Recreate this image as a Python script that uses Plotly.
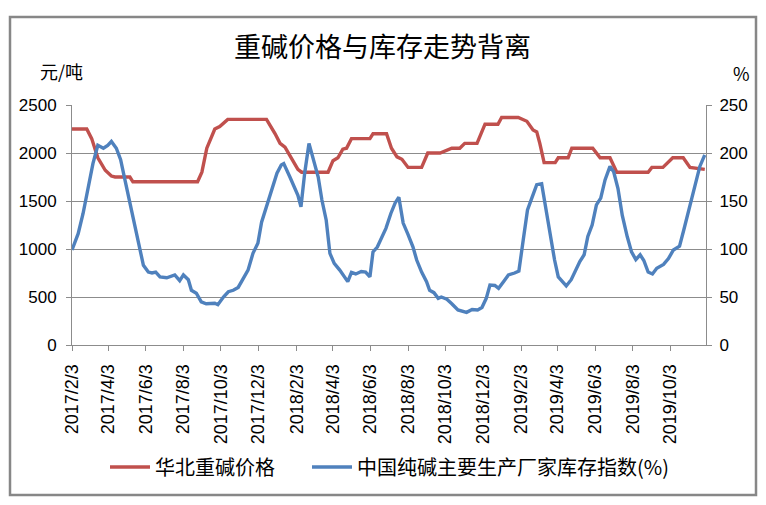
import plotly.graph_objects as go

# 华北重碱价格 (元/吨)
price_dates = [
    "2017-02-03", "2017-02-27", "2017-03-07", "2017-03-17", "2017-03-29", "2017-04-08", "2017-04-14",
    "2017-05-08", "2017-05-13", "2017-08-26", "2017-09-02", "2017-09-10", "2017-09-23", "2017-10-01",
    "2017-10-14", "2017-12-16", "2017-12-30", "2018-01-07", "2018-01-15", "2018-01-26", "2018-02-05",
    "2018-02-11", "2018-03-26", "2018-04-03", "2018-04-11", "2018-04-19", "2018-04-25", "2018-05-03",
    "2018-06-02", "2018-06-07", "2018-06-29", "2018-07-07", "2018-07-16", "2018-07-24", "2018-08-03",
    "2018-08-25", "2018-09-04", "2018-09-24", "2018-10-13", "2018-10-26", "2018-11-03", "2018-11-23",
    "2018-12-06", "2018-12-27", "2019-01-02", "2019-01-29", "2019-02-12", "2019-02-22", "2019-02-28",
    "2019-03-05", "2019-03-12", "2019-03-30", "2019-04-04", "2019-04-20", "2019-04-26", "2019-05-30",
    "2019-06-11", "2019-06-27", "2019-07-08", "2019-08-28", "2019-09-03", "2019-09-21", "2019-10-07",
    "2019-10-24", "2019-11-04", "2019-11-28",
]
price_values = [
    2250, 2250, 2150, 1950, 1820, 1760, 1750,
    1750, 1700, 1700, 1800, 2050, 2250, 2275,
    2350, 2350, 2200, 2100, 2060, 1930, 1830,
    1800, 1800, 1920, 1950, 2040, 2050, 2150,
    2150, 2200, 2200, 2050, 1960, 1935, 1850,
    1850, 2000, 2000, 2050, 2050, 2100, 2100,
    2300, 2300, 2370, 2370, 2330, 2240, 2220,
    2100, 1900, 1900, 1950, 1950, 2050, 2050,
    1950, 1950, 1800, 1800, 1850, 1850, 1950,
    1950, 1850, 1830,
]

# 中国纯碱主要生产厂家库存指数 (%)
inv_dates = [
    "2017-02-03", "2017-02-13", "2017-02-21", "2017-03-01", "2017-03-09", "2017-03-17", "2017-03-26",
    "2017-04-02", "2017-04-08", "2017-04-16", "2017-04-23", "2017-04-30", "2017-05-08", "2017-05-16",
    "2017-05-24", "2017-05-30", "2017-06-07", "2017-06-13", "2017-06-19", "2017-06-26", "2017-07-07",
    "2017-07-20", "2017-07-28", "2017-08-03", "2017-08-11", "2017-08-16", "2017-08-24", "2017-09-01",
    "2017-09-09", "2017-09-23", "2017-09-28", "2017-10-07", "2017-10-15", "2017-10-23", "2017-10-31",
    "2017-11-08", "2017-11-16", "2017-11-24", "2017-12-02", "2017-12-08", "2017-12-16", "2017-12-24",
    "2018-01-02", "2018-01-09", "2018-01-13", "2018-01-23", "2018-01-31", "2018-02-05", "2018-02-10",
    "2018-02-16", "2018-02-23", "2018-03-02", "2018-03-10", "2018-03-16", "2018-03-23", "2018-03-29",
    "2018-04-05", "2018-04-14", "2018-04-21", "2018-04-27", "2018-05-03", "2018-05-10", "2018-05-19",
    "2018-05-26", "2018-06-02", "2018-06-07", "2018-06-14", "2018-06-21", "2018-06-28", "2018-07-06",
    "2018-07-13", "2018-07-19", "2018-07-26", "2018-08-03", "2018-08-11", "2018-08-17", "2018-08-25",
    "2018-09-02", "2018-09-07", "2018-09-14", "2018-09-21", "2018-09-26", "2018-10-05", "2018-10-13",
    "2018-10-23", "2018-11-06", "2018-11-15", "2018-11-24", "2018-12-01", "2018-12-08", "2018-12-14",
    "2018-12-22", "2018-12-28", "2019-01-05", "2019-01-13", "2019-01-23", "2019-01-30", "2019-02-06",
    "2019-02-13", "2019-02-20", "2019-02-28", "2019-03-08", "2019-03-16", "2019-03-23", "2019-03-29",
    "2019-04-04", "2019-04-10", "2019-04-17", "2019-04-25", "2019-05-02", "2019-05-09", "2019-05-16",
    "2019-05-22", "2019-05-29", "2019-06-05", "2019-06-12", "2019-06-19", "2019-06-27", "2019-07-03",
    "2019-07-10", "2019-07-17", "2019-07-25", "2019-08-01", "2019-08-08", "2019-08-15", "2019-08-21",
    "2019-08-28", "2019-09-04", "2019-09-11", "2019-09-22", "2019-09-30", "2019-10-08", "2019-10-18",
    "2019-10-25", "2019-11-03", "2019-11-12", "2019-11-20", "2019-11-28",
]
inv_values = [
    99, 116, 137, 165, 189, 208, 205,
    208, 212, 205, 193, 172, 148, 127,
    99, 83, 76, 75, 76, 71, 70,
    73, 67, 73, 68, 57, 54, 45,
    43, 43.5, 42, 50, 55.5, 57, 60,
    69, 78, 95.5, 106, 128, 144, 161,
    179, 187.5, 189, 175, 163, 156, 144,
    179, 210, 194.5, 175, 151, 130, 95.5,
    85, 78, 71, 66, 75.7, 74, 76.5,
    76, 71, 97, 102, 111, 121.5, 137,
    148, 154, 127, 115, 102, 88.5, 76,
    66, 57, 54.5, 48.6, 50, 47.6, 43,
    36.5, 34, 37, 36.5, 39, 48.6, 62.5,
    62, 59, 66, 73, 75, 77, 109,
    140.6, 153, 167, 168, 137, 113, 88.5,
    71, 66, 61.5, 68, 78, 87, 94,
    113, 125, 146, 153, 172, 186, 180.5,
    163, 135, 113, 97, 89, 94, 88,
    76, 74, 80, 84, 90, 99, 103,
    120, 144, 167, 186, 198,
]

tick_dates = [
    "2017-02-03", "2017-04-03", "2017-06-03", "2017-08-03", "2017-10-03", "2017-12-03",
    "2018-02-03", "2018-04-03", "2018-06-03", "2018-08-03", "2018-10-03", "2018-12-03",
    "2019-02-03", "2019-04-03", "2019-06-03", "2019-08-03", "2019-10-03",
]
tick_labels = [
    "2017/2/3", "2017/4/3", "2017/6/3", "2017/8/3", "2017/10/3", "2017/12/3",
    "2018/2/3", "2018/4/3", "2018/6/3", "2018/8/3", "2018/10/3", "2018/12/3",
    "2019/2/3", "2019/4/3", "2019/6/3", "2019/8/3", "2019/10/3",
]

title_text = "重碱价格与库存走势背离"
left_unit = "元/吨"
right_unit = "%"
name_price = "华北重碱价格"
name_inv = "中国纯碱主要生产厂家库存指数(%)"

RED = "#C0504D"
BLUE = "#4F81BD"
GRID = "#8C8C8C"
FONT = "Noto Sans CJK SC"
NUMFONT = "Liberation Sans"

# plot area in page pixels (page has an 8px body margin)
PX0, PX1, PY0, PY1 = 72, 706, 105, 345
OFF = 8
W, H = 766, 505


def px(x):
    return (x - PX0) / (PX1 - PX0)


def py(y):
    return (PY1 - y) / (PY1 - PY0)


fig = go.Figure()
fig.add_trace(go.Scatter(x=price_dates, y=price_values, name=name_price, mode="lines",
                         line=dict(color=RED, width=3.4), yaxis="y", legend="legend"))
fig.add_trace(go.Scatter(x=inv_dates, y=inv_values, name=name_inv, mode="lines",
                         line=dict(color=BLUE, width=3.4), yaxis="y2", legend="legend2"))

legend_common = dict(orientation="h", xanchor="left", y=py(467), yanchor="middle",
                     font=dict(size=20, family=FONT), itemwidth=40,
                     bgcolor="rgba(0,0,0,0)")

fig.update_layout(
    width=W, height=H,
    margin=dict(l=PX0 - OFF, r=W - (PX1 - OFF), t=PY0 - OFF, b=H - (PY1 - OFF), autoexpand=False),
    paper_bgcolor="white", plot_bgcolor="white",
    font=dict(family=FONT, color="#000000", size=14),
    showlegend=True,
    legend=dict(x=px(105), **legend_common),
    legend2=dict(x=px(307), **legend_common),
    xaxis=dict(
        type="date", range=["2017-02-03", "2019-11-30"],
        tickmode="array", tickvals=tick_dates, ticktext=tick_labels, tickangle=-90,
        ticks="outside", ticklen=5, tickcolor=GRID, ticklabelstandoff=6,
        showline=True, linecolor=GRID, linewidth=1, showgrid=False,
        tickfont=dict(family=NUMFONT, size=18), zeroline=False,
    ),
    yaxis=dict(
        range=[0, 2500], dtick=500, tick0=0,
        ticks="outside", ticklen=5, tickcolor=GRID, ticklabelstandoff=6,
        showline=True, linecolor=GRID, linewidth=1,
        showgrid=True, gridcolor=GRID, gridwidth=1, zeroline=False,
        tickfont=dict(family=NUMFONT, size=17),
    ),
    yaxis2=dict(
        range=[0, 250], dtick=50, tick0=0, overlaying="y", side="right",
        ticks="outside", ticklen=5, tickcolor=GRID, ticklabelstandoff=4,
        showline=True, linecolor=GRID, linewidth=1,
        showgrid=False, zeroline=False,
        tickfont=dict(family=NUMFONT, size=17),
    ),
    annotations=[
        dict(text=title_text, xref="paper", yref="paper", x=px(382), y=py(45),
             showarrow=False, xanchor="center", yanchor="middle",
             font=dict(size=27, family=FONT)),
        dict(text=left_unit, xref="paper", yref="paper", x=px(38), y=py(71),
             showarrow=False, xanchor="left", yanchor="middle",
             font=dict(size=18, family=FONT)),
        dict(text=right_unit, xref="paper", yref="paper", x=px(741), y=py(73),
             showarrow=False, xanchor="center", yanchor="middle",
             font=dict(size=18, family=FONT)),
    ],
    shapes=[
        dict(type="rect", xref="paper", yref="paper",
             x0=px(10), x1=px(756), y0=py(495), y1=py(17),
             line=dict(color="#878787", width=2.5), fillcolor="rgba(0,0,0,0)", layer="below"),
    ],
)

fig.write_html("out.html")
